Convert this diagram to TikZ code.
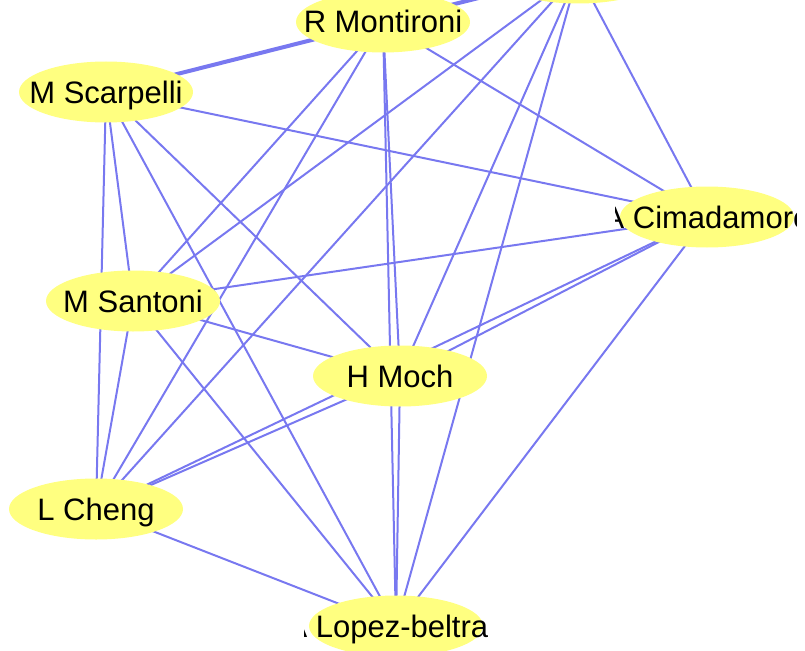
\documentclass[tikz,border=0pt]{standalone}
\usepackage{fontspec}
\setmainfont{Liberation Sans}
\usetikzlibrary{shapes.geometric,backgrounds,calc}
\definecolor{edgeblue}{RGB}{120,120,240}
\definecolor{nodeyellow}{RGB}{255,255,128}
\begin{document}
\begin{tikzpicture}[x=1pt,y=-1pt,
  vert/.style={ellipse, fill=nodeyellow, minimum width=174pt, minimum height=61pt, inner sep=0pt},
  lbl/.style={anchor=base, inner sep=0pt, font=\fontsize{31}{36}\selectfont},
  link/.style={draw=edgeblue, line width=2pt},
  heavy/.style={draw=edgeblue, line width=4pt}]
\useasboundingbox (0,0) rectangle (805,650);
% nodes
\node[vert] (t)  at (578,-27) {};
\node[vert] (rm) at (383,22) {};
\node[vert] (ms) at (106,92) {};
\node[vert] (ac) at (707,217) {};
\node[vert] (sa) at (133,301) {};
\node[vert] (hm) at (400,376) {};
\node[vert] (lc) at (96,509) {};
\node[vert] (al) at (396,626) {};
% labels
\node[lbl] (rml) at ($(rm.center)+(0,11)$) {R Montironi};
\node[lbl] (msl) at ($(ms.center)+(0,11)$) {M Scarpelli};
\node[lbl] (sal) at ($(sa.center)+(0,11)$) {M Santoni};
\node[lbl] (hml) at ($(hm.center)+(0,11)$) {H Moch};
\node[lbl] (lcl) at ($(lc.center)+(0,11)$) {L Cheng};
\begin{scope}
  \clip (615,150) rectangle (796,280);
  \node[lbl] (acl) at ($(ac.center)+(0,11)$) {A Cimadamore};
\end{scope}
\begin{scope}
  \clip (304,580) rectangle (488,650);
  \node[lbl] (all) at ($(al.center)+(0,11)$) {A Lopez-beltran};
\end{scope}
% edges
\begin{pgfonlayer}{background}
\draw[heavy] (t.center) -- (rm.center);
\draw[heavy] (rm.center) -- (ms.center);
\foreach \a/\b in {t/ac,t/sa,t/hm,t/lc,t/al,
  rm/ac,rm/sa,rm/hm,rm/lc,rm/al,
  ms/ac,ms/sa,ms/hm,ms/lc,ms/al,
  ac/sa,ac/hm,ac/lc,ac/al,
  sa/hm,sa/lc,sa/al,
  hm/lc,hm/al,
  lc/al}
  \draw[link] (\a.center) -- (\b.center);
\end{pgfonlayer}
\end{tikzpicture}
\end{document}
